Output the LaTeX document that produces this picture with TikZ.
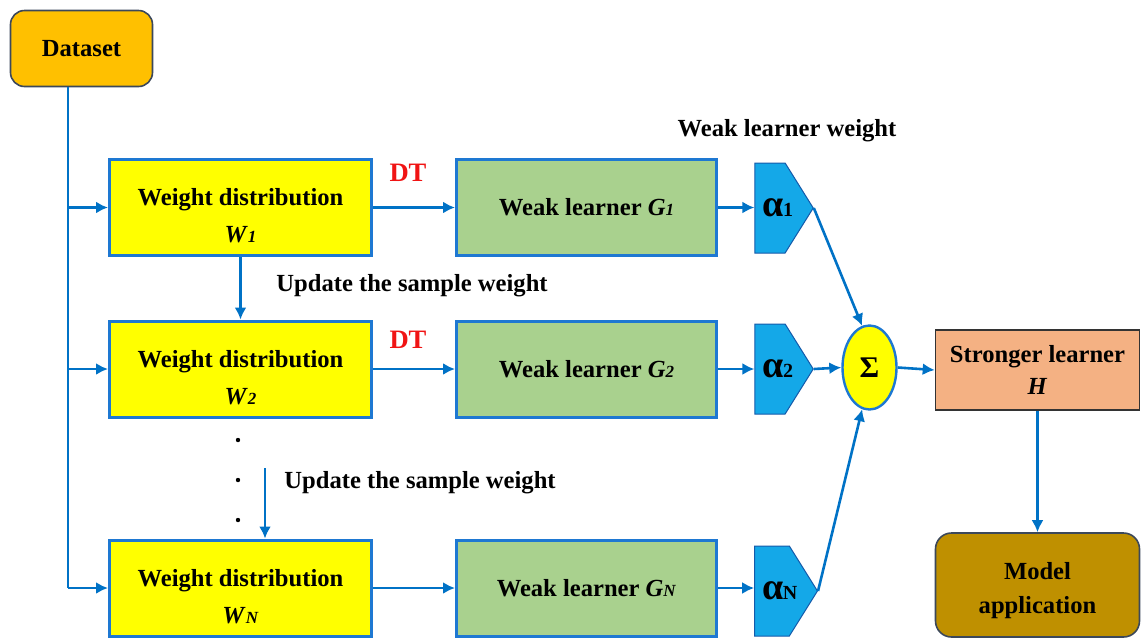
\documentclass[tikz,border=0pt]{standalone}
\usepackage{fontspec}
\setmainfont{Liberation Serif}
\usetikzlibrary{arrows.meta,shapes.geometric,shapes.symbols,calc}

\definecolor{lineblue}{RGB}{0,114,198}
\definecolor{boxblue}{RGB}{30,120,210}
\definecolor{wyellow}{RGB}{255,255,0}
\definecolor{wgreen}{RGB}{169,209,142}
\definecolor{alphablue}{RGB}{20,168,232}
\definecolor{alphaedge}{RGB}{20,90,170}
\definecolor{dsorange}{RGB}{255,192,0}
\definecolor{darkedge}{RGB}{60,72,90}
\definecolor{strongfill}{RGB}{244,177,131}
\definecolor{modelfill}{RGB}{191,144,0}
\definecolor{dtred}{RGB}{240,20,20}

\newcommand\smallsub[1]{{\fontsize{8.5}{8.5}\selectfont #1}}
% extra room above the first line of a two-line box
\newcommand\topgap[1]{\rule{0pt}{#1}}

\tikzset{
  txt/.style={font=\fontsize{12.3}{18.5}\selectfont\bfseries, align=center},
  wdist/.style={txt, draw=boxblue, line width=1.5pt, fill=wyellow,
    minimum width=131pt, minimum height=48pt, inner sep=0pt},
  weak/.style={txt, draw=boxblue, line width=1.5pt, fill=wgreen,
    minimum width=130pt, minimum height=48pt, inner sep=0pt},
  alphabox/.style={shape=signal, signal to=east, signal from=nowhere,
    signal pointer angle=116, draw=alphaedge, line width=0.5pt, fill=alphablue,
    minimum width=29pt, minimum height=45pt, inner sep=0pt,
    font=\bfseries},
  conn/.style={draw=lineblue, line width=1.3pt, -{Latex[length=6pt,width=6pt]}},
  plain/.style={draw=lineblue, line width=1.3pt},
  lbl/.style={font=\fontsize{12.3}{14}\selectfont\bfseries, inner sep=0pt},
  dtlbl/.style={font=\fontsize{13.3}{14}\selectfont\bfseries, text=dtred, inner sep=0pt},
  dotmark/.style={circle, fill=black, inner sep=0pt, minimum size=2.2pt},
}

% weight symbol: large alpha with a small index on the baseline,
% nudged right without widening the shape
\newcommand\alphatext[1]{\kern4pt{\fontsize{19}{19}\selectfont α}\kern-0.5pt{\fontsize{10}{10}\selectfont #1}\kern-4pt}

\begin{document}
\begin{tikzpicture}[x=0.5pt, y=-0.5pt]
\useasboundingbox (0,0) rectangle (1146,638);

% source data
\node[txt, draw=darkedge, line width=0.8pt, fill=dsorange, rounded corners=7pt,
  minimum width=71pt, minimum height=38pt] (dataset) at (81.5,48.5) {Dataset};

% weight distributions
\node[wdist] (w1) at (240.5,207.5) {\topgap{17pt}Weight distribution\\\textit{W}\smallsub{\textit{1}}};
\node[wdist] (w2) at (240.5,369) {\topgap{17pt}Weight distribution\\\textit{W}\smallsub{\textit{2}}};
\node[wdist] (wn) at (240.5,588) {\topgap{17pt}Weight distribution\\\textit{W}\smallsub{\textit{N}}};

% weak learners
\node[weak] (g1) at (586.5,207.5) {Weak learner \textit{G}\smallsub{\textit{1}}};
\node[weak] (g2) at (586.5,369) {Weak learner \textit{G}\smallsub{\textit{2}}};
\node[weak] (gn) at (586.5,588) {Weak learner \textit{G}\smallsub{\textit{N}}};

% learner weights
\node[alphabox] (a1) at (770,208) {\alphatext{1}};
\node[alphabox] (a2) at (770,369) {\alphatext{2}};
\node[alphabox] (an) at (772,591) {\alphatext{N}};

% combination and result
\node[ellipse, draw=boxblue, line width=1.2pt, fill=wyellow, minimum width=27pt,
  minimum height=42pt, inner sep=0pt, font=\fontsize{15}{15}\selectfont\bfseries]
  (sigma) at (869.5,367.5) {Σ};
\node[txt, draw=black!80, line width=0.8pt, fill=strongfill, minimum width=102pt,
  minimum height=40pt, inner sep=0pt, font=\fontsize{12.3}{16}\selectfont\bfseries]
  (strong) at (1037.5,370) {Stronger learner\\\textit{H}};
\node[txt, draw=darkedge, line width=0.8pt, fill=modelfill, rounded corners=8pt,
  minimum width=102pt, minimum height=52pt, inner sep=0pt,
  font=\fontsize{12.3}{17}\selectfont\bfseries]
  (model) at (1037.5,585) {\topgap{14pt}Model\\application};

% labels
\node[lbl] (wlw) at (787,131) {Weak learner weight};
\node[dtlbl] (dt1) at (408,173) {DT};
\node[dtlbl] (dt2) at (408,340) {DT};
\node[lbl, anchor=west] (upd1) at (276,286) {Update the sample weight};
\node[lbl, anchor=west] (upd2) at (284,483) {Update the sample weight};

% omitted stages
\node[dotmark] (d1) at (238,440) {};
\node[dotmark] (d2) at (238,480) {};
\node[dotmark] (d3) at (238,520) {};

% trunk from the data set
\coordinate (t0) at (68,87);
\draw[plain] (t0) -- (t0 |- wn.west);
\draw[conn] (t0 |- w1.west) -- (w1.west);
\draw[conn] (t0 |- w2.west) -- (w2.west);
\draw[conn] (t0 |- wn.west) -- (wn.west);

% sample weight updates
\draw[conn] (w1.south) -- (w2.north);
\coordinate (u0) at (265,468);
\draw[conn] (u0) -- (u0 |- wn.north);

% rows
\draw[conn] (w1.east) -- (g1.west);
\draw[conn] (w2.east) -- (g2.west);
\draw[conn] (wn.east) -- (gn.west);
\draw[conn] (g1.east) -- (g1.east -| a1.west);
\draw[conn] (g2.east) -- (g2.east -| a2.west);
\draw[conn] (gn.east) -- (gn.east -| an.west);

% weighted sum
\draw[conn] (a1.east) -- (sigma.100);
\draw[conn] (a2.east) -- (sigma.west);
\draw[conn] (an.east) -- (sigma.260);
\draw[conn] (sigma.east) -- (strong.west);
\draw[conn] (strong.south) -- (model.north);
\end{tikzpicture}
\end{document}
